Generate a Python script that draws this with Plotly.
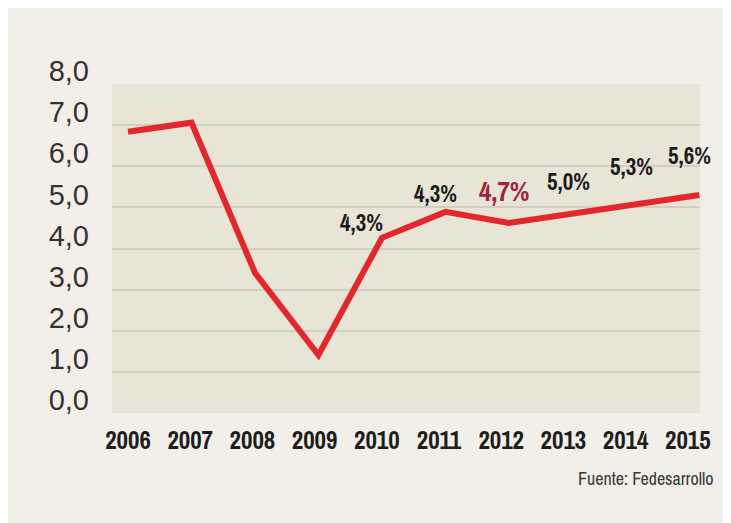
import plotly.graph_objects as go

# ---- data ----
years = [2006, 2007, 2008, 2009, 2010, 2011, 2012, 2013, 2014, 2015]
growth = [6.84, 7.06, 3.41, 1.41, 4.26, 4.89, 4.62, 4.85, 5.07, 5.30]
label_years = [2010, 2011, 2012, 2013, 2014, 2015]
label_texts = ["4,3%", "4,3%", "4,7%", "5,0%", "5,3%", "5,6%"]
y_tickvals = [0, 1, 2, 3, 4, 5, 6, 7, 8]
y_ticktext = ["0,0", "1,0", "2,0", "3,0", "4,0", "5,0", "6,0", "7,0", "8,0"]
source_text = "Fuente: Fedesarrollo"

# ---- style ----
W, H = 723, 515
L, R, T, B = 104, 31, 76, 110
PANEL = "#f2efe8"
PLOTBG = "#e8e5d6"
GRID = "#d3cfc0"
LINE = "#e3282d"
NARROW = "Archivo Narrow, Roboto Condensed, Liberation Sans Narrow, sans-serif"

# per-label offsets (px) and styles
label_shift = [(-20, 15), (-10, 18), (-5, 32), (-4, 32), (-4, 38), (-10, 40)]
label_color = ["#1a1a1a", "#1a1a1a", "#a3213f", "#1a1a1a", "#1a1a1a", "#1a1a1a"]
label_size = [23, 23, 27, 23, 23, 23]

fig = go.Figure()
fig.add_trace(go.Scatter(
    x=years, y=growth, mode="lines",
    line=dict(color=LINE, width=6),
    cliponaxis=False, hoverinfo="skip", showlegend=False,
))
# empty carrier trace so the year-label axis (spaced slightly tighter) is drawn
fig.add_trace(go.Scatter(
    x=years, y=[None] * len(years), mode="markers", xaxis="x2", yaxis="y",
    marker=dict(opacity=0), hoverinfo="skip", showlegend=False,
))

pw, ph = W - L - R, H - T - B
val_by_year = dict(zip(years, growth))
annotations = []
for yr, txt, (dx, dy), col, sz in zip(label_years, label_texts, label_shift, label_color, label_size):
    annotations.append(dict(
        x=yr, y=val_by_year[yr], xref="x", yref="y", text="<b>%s</b>" % txt,
        showarrow=False, xshift=dx, yshift=dy,
        font=dict(family=NARROW, size=sz, color=col),
        xanchor="center", yanchor="middle",
    ))
annotations.append(dict(
    x=(707 - L) / pw, y=-(470 - (H - B)) / ph,
    xref="paper", yref="paper", text=source_text, showarrow=False,
    xanchor="right", yanchor="middle",
    font=dict(family=NARROW, size=18, color="#3a3a3a"),
))

fig.update_layout(
    width=W, height=H,
    margin=dict(l=L, r=R, t=T, b=B, pad=0),
    paper_bgcolor=PANEL, plot_bgcolor=PLOTBG,
    annotations=annotations,
    xaxis=dict(
        range=[2005.748, 2015.01], showticklabels=False,
        showgrid=False, zeroline=False, showline=False, ticks="", fixedrange=True,
    ),
    xaxis2=dict(
        overlaying="x", anchor="y", side="bottom",
        range=[2005.743, 2015.196], tickvals=years,
        ticktext=["<b>%d</b>" % y for y in years],
        tickfont=dict(family=NARROW, size=25, color="#1e1e1e"),
        showgrid=False, zeroline=False, showline=False, ticks="",
        ticklabelstandoff=10, tickangle=0, fixedrange=True,
    ),
    yaxis=dict(
        range=[0, 8], tickvals=y_tickvals, ticktext=y_ticktext,
        tickfont=dict(family="Liberation Sans, Arial, sans-serif", size=29, color="#333333"),
        showgrid=True, gridcolor=GRID, gridwidth=2, zeroline=False, showline=False,
        ticks="", ticklabelstandoff=22, ticklabelshift=-13, fixedrange=True,
    ),
)

fig.write_html("out.html")
